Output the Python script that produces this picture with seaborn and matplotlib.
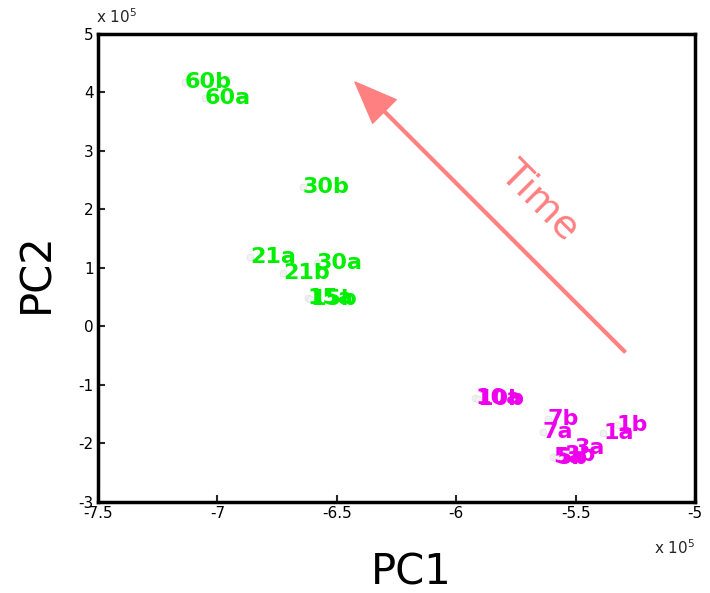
import matplotlib
matplotlib.use("Agg")
import matplotlib.pyplot as plt
import seaborn as sns
import pandas as pd

# sample labels and PCA scores (units of 1e5)
labels = ["60b", "60a", "30b", "21a", "21b", "30a", "15a", "15b",
          "10a", "10b", "7b", "7a", "1a", "1b", "3a", "3b", "5a", "5b"]
pc1 = [-7.136, -7.052, -6.642, -6.864, -6.725, -6.583, -6.621, -6.612,
       -5.921, -5.909, -5.616, -5.637, -5.385, -5.327, -5.505, -5.546, -5.595, -5.582]
pc2 = [4.18, 3.906, 2.385, 1.188, 0.915, 1.085, 0.487, 0.470,
       -1.222, -1.232, -1.581, -1.803, -1.82, -1.684, -2.077, -2.19, -2.23, -2.245]
group = ["late"] * 8 + ["early"] * 10

arrow_start = (-5.293, -0.436)
arrow_end = (-6.424, 4.179)

df = pd.DataFrame({"PC1": pc1, "PC2": pc2, "label": labels, "group": group})
colors = {"late": "#00ee00", "early": "#ee00ee"}

sns.set_style("white")
plt.rcParams["font.family"] = ["DejaVu Sans"]
plt.rcParams["axes.unicode_minus"] = False

fig = plt.figure(figsize=(7.1, 5.93), dpi=100)
ax = fig.add_axes([0.138, 0.1535, 0.841, 0.7892])

sns.scatterplot(data=df, x="PC1", y="PC2", ax=ax, color="#f2f2f2",
                edgecolor="#dddddd", s=25, legend=False, zorder=1)

for _, r in df.iterrows():
    ax.text(r["PC1"], r["PC2"], r["label"], color=colors[r["group"]],
            fontsize=16, fontweight="bold", ha="left", va="center", zorder=3)

ax.annotate("", xy=arrow_end, xytext=arrow_start,
            arrowprops=dict(facecolor="#ff8080", edgecolor="#ff8080",
                            width=2, headwidth=24, headlength=30))
ax.text(-5.649, 2.162, "Time", color="#ff8080", fontsize=28,
        rotation=-45, ha="center", va="center")

ax.set_xlim(-7.5, -5)
ax.set_ylim(-3, 5)
ax.set_xticks([-7.5, -7, -6.5, -6, -5.5, -5])
ax.set_xticklabels(["-7.5", "-7", "-6.5", "-6", "-5.5", "-5"])
ax.set_yticks(range(-3, 6))
ax.tick_params(direction="in", length=5, width=1.5, labelsize=11,
               labelcolor="black", bottom=True, left=True, pad=3)
for sp in ax.spines.values():
    sp.set_linewidth(2.5)
    sp.set_color("black")

ax.set_xlabel("PC1", fontsize=30, color="black")
ax.set_ylabel("PC2", fontsize=30, color="black")
ax.xaxis.set_label_coords(0.525, -0.105)
ax.yaxis.set_label_coords(-0.068, 0.49)

fig.text(0.135, 0.962, r"x 10$^5$", fontsize=11, ha="left")
fig.text(0.921, 0.066, r"x 10$^5$", fontsize=11, ha="left")

fig.savefig("out.png", dpi=100)
